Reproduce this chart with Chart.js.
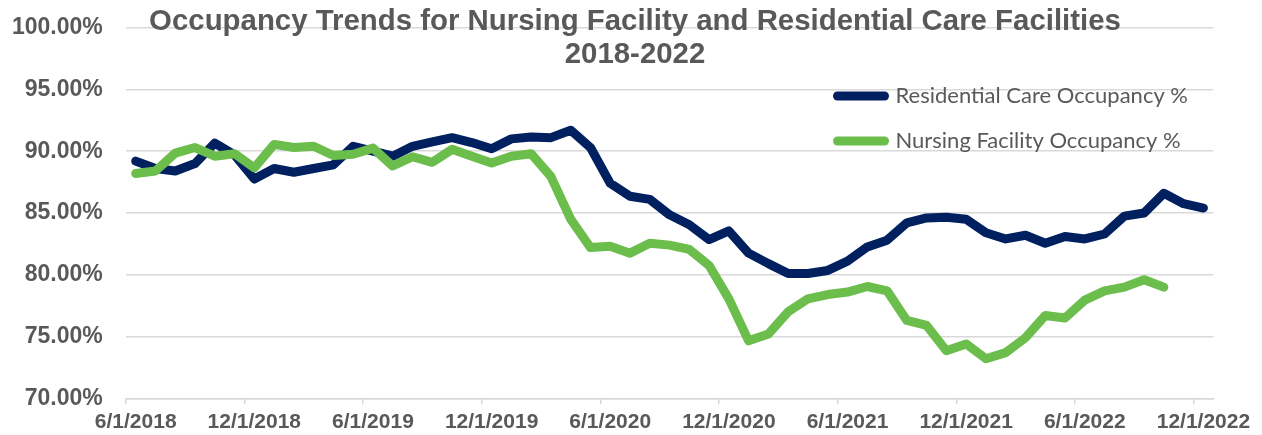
<!DOCTYPE html>
<html>
<head>
<meta charset="utf-8">
<title>Occupancy Trends</title>
<script src="https://cdn.jsdelivr.net/npm/chart.js"></script>
<style>
  html, body { margin: 0; padding: 0; background: #ffffff; }
  #wrap { width: 1262px; height: 435px; }
</style>
</head>
<body>
<div id="wrap"><canvas id="c" width="1262" height="435"></canvas></div>
<script>
// ---------- data ----------
const months = [
  '6/1/2018','7/1/2018','8/1/2018','9/1/2018','10/1/2018','11/1/2018','12/1/2018',
  '1/1/2019','2/1/2019','3/1/2019','4/1/2019','5/1/2019','6/1/2019','7/1/2019','8/1/2019','9/1/2019','10/1/2019','11/1/2019','12/1/2019',
  '1/1/2020','2/1/2020','3/1/2020','4/1/2020','5/1/2020','6/1/2020','7/1/2020','8/1/2020','9/1/2020','10/1/2020','11/1/2020','12/1/2020',
  '1/1/2021','2/1/2021','3/1/2021','4/1/2021','5/1/2021','6/1/2021','7/1/2021','8/1/2021','9/1/2021','10/1/2021','11/1/2021','12/1/2021',
  '1/1/2022','2/1/2022','3/1/2022','4/1/2022','5/1/2022','6/1/2022','7/1/2022','8/1/2022','9/1/2022','10/1/2022','11/1/2022','12/1/2022'
];

const xTickLabels = ['6/1/2018','12/1/2018','6/1/2019','12/1/2019','6/1/2020','12/1/2020','6/1/2021','12/1/2021','6/1/2022','12/1/2022'];
const yTickValues = [70, 75, 80, 85, 90, 95, 100];

const residentialCare = [
  89.2, 88.6, 88.4, 89.0, 90.65, 89.7, 87.75, 88.6, 88.3, 88.6,
  88.9, 90.4, 90.0, 89.6, 90.4, 90.75, 91.1, 90.7, 90.2, 91.0,
  91.15, 91.1, 91.7, 90.3, 87.4, 86.35, 86.1, 84.85, 84.05, 82.85,
  83.55, 81.75, 80.9, 80.1, 80.1, 80.35, 81.1, 82.25, 82.8, 84.2,
  84.6, 84.65, 84.5, 83.4, 82.9, 83.2, 82.55, 83.1, 82.9, 83.3,
  84.75, 85.0, 86.6, 85.75, 85.4
];

const nursingFacility = [
  88.2, 88.4, 89.85, 90.3, 89.6, 89.8, 88.65, 90.55, 90.3, 90.4,
  89.65, 89.75, 90.25, 88.8, 89.55, 89.1, 90.15, 89.6, 89.05, 89.6,
  89.8, 87.95, 84.5, 82.2, 82.3, 81.75, 82.55, 82.4, 82.05, 80.75,
  78.05, 74.65, 75.2, 77.0, 78.05, 78.4, 78.6, 79.05, 78.7, 76.3,
  75.9, 73.85, 74.4, 73.2, 73.7, 74.9, 76.7, 76.5, 77.95, 78.7,
  79.0, 79.6, 79.0, null, null
];

const seriesNames = ['Residential Care Occupancy %', 'Nursing Facility Occupancy %'];
const titleLines = ['Occupancy Trends for Nursing Facility and Residential Care Facilities', '2018-2022'];

// ---------- styles ----------
const NAVY = '#002060';
const GREEN = '#6BBE4B';
const TEXT = '#595959';
const GRID = '#d9d9d9';
const CLEAR = 'rgba(0,0,0,0)';
const LINE_W = 9;

Chart.defaults.font.family = '"Liberation Sans", Arial, sans-serif';
Chart.defaults.color = TEXT;

const legendPlacer = {
  id: 'legendPlacer',
  afterLayout(chart) {
    const lg = chart.legend;
    if (!lg) return;
    const w = lg.width, h = lg.height;
    lg.left = 814.5; lg.top = 62;
    lg.right = lg.left + w; lg.bottom = lg.top + h;
  }
};

new Chart(document.getElementById('c'), {
  type: 'line',
  data: {
    labels: months,
    datasets: [
      {
        label: seriesNames[0],
        data: residentialCare,
        borderColor: NAVY,
        backgroundColor: NAVY,
        borderWidth: LINE_W,
        order: 2
      },
      {
        label: seriesNames[1],
        data: nursingFacility,
        borderColor: GREEN,
        backgroundColor: GREEN,
        borderWidth: LINE_W,
        order: 1
      }
    ]
  },
  options: {
    responsive: false,
    animation: false,
    devicePixelRatio: 1,
    elements: {
      line: { tension: 0, borderJoinStyle: 'round', borderCapStyle: 'round', fill: false },
      point: { radius: 0, hoverRadius: 0 }
    },
    layout: { padding: { left: 12, right: 4, top: 0, bottom: 0 } },
    plugins: {
      tooltip: { enabled: false },
      title: {
        display: true,
        text: titleLines,
        color: TEXT,
        font: { size: 29.4, weight: 'bold', lineHeight: 1.134 },
        padding: { top: 5, bottom: -44 },
        align: 'center',
        fullSize: true
      },
      legend: {
        display: true,
        position: 'chartArea',
        align: 'start',
        labels: {
          usePointStyle: true,
          pointStyle: 'line',
          pointStyleWidth: 47,
          padding: 23,
          color: TEXT,
          font: { family: 'Lato, "Open Sans", sans-serif', size: 22, weight: 'normal' },
          sort: (a, b) => a.datasetIndex - b.datasetIndex,
          generateLabels(chart) {
            const items = Chart.defaults.plugins.legend.labels.generateLabels(chart);
            items.forEach(it => {
              const ds = chart.data.datasets[it.datasetIndex];
              it.lineCap = 'round';
              it.lineWidth = LINE_W;
              it.strokeStyle = ds.borderColor;
              it.fillStyle = ds.borderColor;
            });
            return items;
          }
        }
      }
    },
    scales: {
      x: {
        type: 'category',
        offset: true,
        border: { display: true, color: GRID, width: 1.5 },
        grid: {
          offset: true,
          drawOnChartArea: false,
          drawTicks: true,
          tickLength: 6,
          lineWidth: 1.5,
          color: GRID,
          tickColor: (ctx) => (ctx.index % 6 === 0 ? GRID : CLEAR)
        },
        afterFit(scale) { scale.height = 36.7; },
        ticks: {
          autoSkip: false,
          maxRotation: 0,
          minRotation: 0,
          padding: 6,
          color: TEXT,
          font: { size: 21, weight: 'bold', lineHeight: 1.18 },
          callback(value, index) {
            const lab = months[index];
            return xTickLabels.includes(lab) ? lab : '';
          }
        }
      },
      y: {
        min: 70,
        max: 100,
        border: { display: false },
        grid: { color: GRID, lineWidth: 1.5, drawTicks: true, tickLength: 23, tickColor: CLEAR },
        afterBuildTicks(scale) {
          scale.ticks = yTickValues.map(v => ({ value: v }));
        },
        ticks: {
          padding: 0,
          color: TEXT,
          font: { size: 23, weight: 'bold' },
          callback: (v) => Number(v).toFixed(2) + '%'
        }
      },
      // empty right-hand spacer axis so the title centres like the reference
      ySpacer: {
        position: 'right',
        display: true,
        border: { display: false },
        grid: { drawOnChartArea: false, drawTicks: false },
        ticks: { display: false },
        afterFit(scale) { scale.width = 44.7; }
      }
    }
  },
  plugins: [legendPlacer]
});
</script>
</body>
</html>
